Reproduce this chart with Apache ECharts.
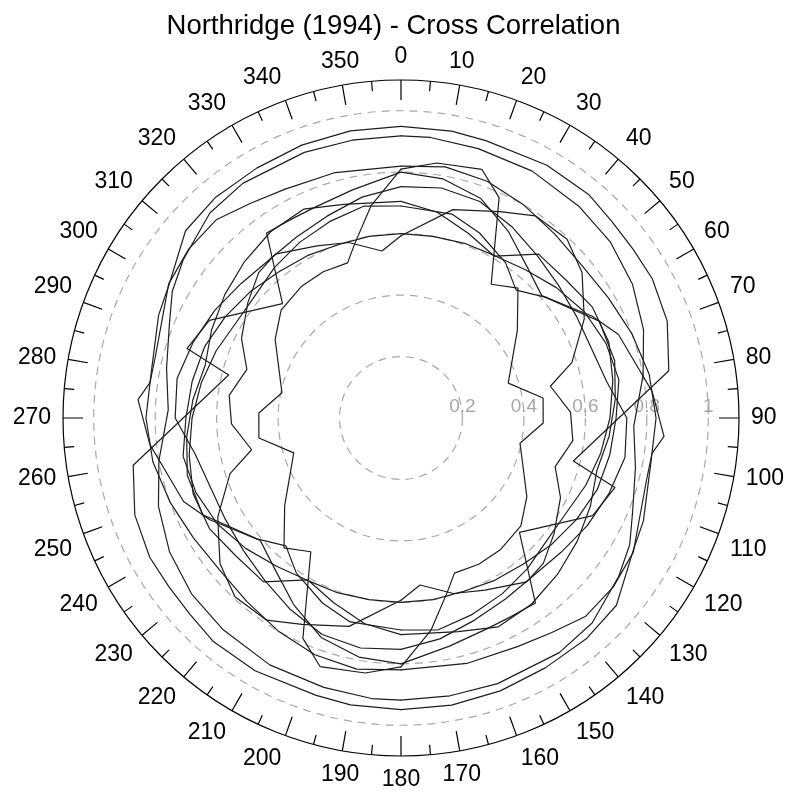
<!DOCTYPE html>
<html>
<head>
<meta charset="utf-8">
<script src="https://cdn.jsdelivr.net/npm/echarts@6/dist/echarts.min.js"></script>
<style>
  html, body { margin: 0; padding: 0; background: #fff; }
  #chart { width: 787px; height: 792px; }
</style>
</head>
<body>
<div id="chart"></div>
<script>
// Cross correlation of the horizontal components versus rotation angle
// (degrees clockwise from north). Rotating both components by 180 degrees
// only flips their signs, so every trace repeats with a 180-degree period:
// each trace is listed from 0 to 180 degrees and drawn again on the far side.

const ang1 = [0, 10, 17, 30, 40, 47, 54, 61, 70, 80, 104, 108, 117, 134, 144, 151, 158, 168, 180];
const cor1 = [.949, .948, .944, .95, .95, .938, .934, .935, .922, .885, .578, .732, .70, .536, .744, .739, .741, .759, .80];

const ang2 = [0, 6, 16, 28, 40, 50, 60, 70, 80, 92, 102, 112, 119, 126, 137, 146, 160, 170, 180];
const cor2 = [.918, .918, .912, .91, .90, .89, .87, .84, .80, .758, .78, .813, .851, .876, .912, .921, .92, .918, .918];

const ang3 = [0, 8, 18, 24, 34, 42, 53, 72, 82, 92, 102, 122, 132, 143, 152, 161, 165, 172, 180];
const cor3 = [.81, .838, .851, .785, .525, .569, .474, .367, .467, .463, .396, .483, .525, .537, .539, .534, .585, .698, .81];

const ang4 = [0, 10, 20, 30, 40, 49, 62, 69, 77, 84, 94, 98, 104, 120, 128.5, 137, 145, 153, 165, 180];
const cor4 = [.80, .79, .76, .70, .64, .607, .705, .758, .784, .822, .858, .825, .824, .873, .883, .882, .853, .835, .827, .82];

const ang5 = [0, 14, 25.6, 33.6, 42.9, 51.2, 61.6, 72, 78, 88, 97.5, 107.5, 116.5, 127, 135.6, 142.5, 154, 163.4, 173.5, 180];
const cor5 = [.593, .699, .745, .79, .794, .756, .678, .585, .497, .552, .564, .526, .58, .624, .662, .672, .623, .596, .547, .593];

const ang6 = [0, 14, 23, 34, 42, 50, 64, 75, 85, 95, 105, 115, 125, 135, 145, 155, 165, 180];
const cor6 = [.69, .684, .654, .609, .56, .612, .718, .72, .70, .68, .66, .68, .70, .72, .74, .75, .72, .705];

const ang7 = [0, 10, 20, 30, 40, 50, 60, 70, 80, 90, 100, 113, 120, 131, 140, 150, 160, 170, 180];
const cor7 = [.82, .83, .82, .80, .78, .77, .78, .80, .82, .83, .826, .857, .871, .929, .938, .939, .945, .949, .949];

const ang8 = [0, 10, 20, 30, 40, 50, 60, 70, 80, 90, 100, 110, 120, 130, 140, 150, 160, 170, 180];
const cor8 = [.753, .76, .75, .72, .69, .67, .66, .66, .68, .735, .74, .72, .70, .68, .67, .68, .70, .73, .753];

const ang9 = [0, 10, 20, 30, 40, 50, 60, 70, 80, 90, 100, 110, 120, 130, 140, 150, 160, 170, 180];
const cor9 = [.705, .68, .64, .608, .696, .70, .72, .72, .70, .68, .66, .64, .62, .62, .64, .66, .68, .70, .69];

const ang10 = [0, 10, 20, 30, 40, 50, 60, 70, 80, 90, 100, 110, 120, 130, 140, 150, 160, 170, 180];
const cor10 = [.60, .60, .605, .61, .63, .66, .69, .71, .72, .70, .69, .68, .66, .64, .62, .61, .60, .60, .60];

const traces = [
  [ang1, cor1], [ang2, cor2], [ang3, cor3], [ang4, cor4], [ang5, cor5],
  [ang6, cor6], [ang7, cor7], [ang8, cor8], [ang9, cor9], [ang10, cor10]
];

// radial gridlines and their labels
const radialTicks = [0.2, 0.4, 0.6, 0.8, 1];
const radialMax = 1.1;

// the angle axis runs 90..450 so that the radial labels sit on the east ray
function toAxisAngle(deg) {
  const a = ((deg % 360) + 360) % 360;
  return a < 90 ? a + 360 : a;
}

const series = [];
traces.forEach(([angs, cors]) => {
  [0, 180].forEach(shift => {
    series.push({
      type: 'line',
      coordinateSystem: 'polar',
      data: angs.map((a, i) => [cors[i], toAxisAngle(a + shift)]),
      symbol: 'none',
      silent: true,
      lineStyle: { color: '#1e1e1e', width: 1.2, cap: 'round', join: 'round' },
      z: 3
    });
  });
});

const chart = echarts.init(document.getElementById('chart'), null, { renderer: 'canvas' });
chart.setOption({
  animation: false,
  backgroundColor: '#ffffff',
  title: {
    text: 'Northridge (1994) - Cross Correlation',
    left: 'center',
    top: 7,
    textStyle: { fontFamily: 'Liberation Sans', fontSize: 27.5, fontWeight: 'normal', color: '#000' }
  },
  polar: { center: [401, 418], radius: 338 },
  angleAxis: {
    type: 'value',
    min: 90,
    max: 450,
    interval: 10,
    startAngle: 0,
    clockwise: true,
    axisLine: { show: true, lineStyle: { color: '#000', width: 1.2 } },
    axisTick: { show: true, inside: true, length: 20, lineStyle: { color: '#000', width: 1.2 } },
    minorTick: { show: true, splitNumber: 2, length: 10, lineStyle: { color: '#000', width: 1.2 } },
    axisLabel: {
      margin: 12,
      fontFamily: 'Liberation Sans',
      fontSize: 23,
      color: '#000',
      formatter: v => (v >= 450 ? '' : String(v % 360))
    },
    splitLine: { show: false },
    minorSplitLine: { show: false }
  },
  radiusAxis: {
    type: 'value',
    min: 0,
    max: radialMax,
    interval: 0.2,
    axisLine: { show: false },
    axisTick: { show: false },
    axisLabel: {
      margin: 2,
      fontFamily: 'Liberation Sans',
      fontSize: 19,
      color: '#a6a6a6',
      formatter: v => {
        const hit = radialTicks.find(t => Math.abs(t - v) < 1e-6);
        return hit === undefined ? '' : String(hit);
      }
    },
    splitLine: {
      show: true,
      lineStyle: {
        color: ['rgba(0,0,0,0)', '#a8a8a8', '#a8a8a8', '#a8a8a8', '#a8a8a8', '#a8a8a8', 'rgba(0,0,0,0)'],
        type: [8, 6],
        width: 1.2
      }
    }
  },
  series: series
});
</script>
</body>
</html>
